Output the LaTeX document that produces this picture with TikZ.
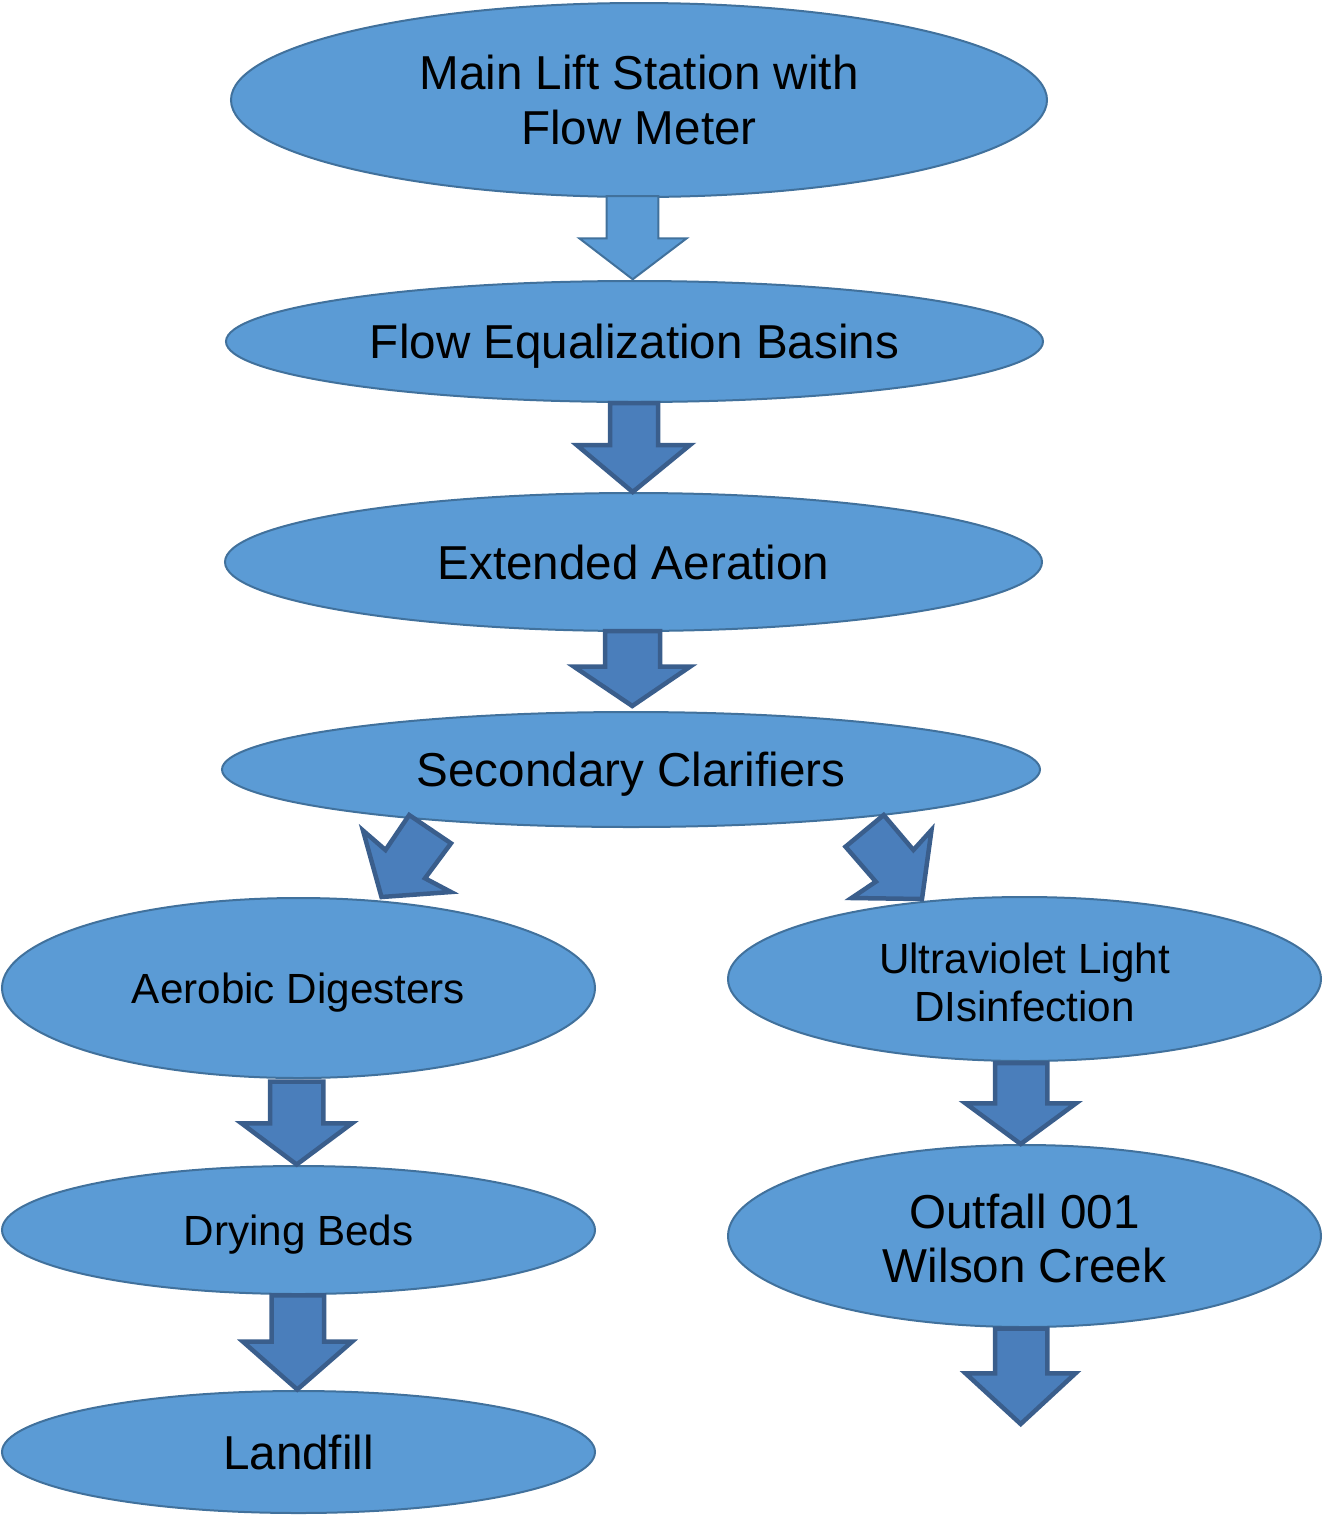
\documentclass[tikz,border=0pt]{standalone}
\usepackage{fontspec}
\setmainfont{Liberation Sans}
\usetikzlibrary{shapes.geometric}
\definecolor{efill}{HTML}{5B9BD5}
\definecolor{eline}{HTML}{41719C}
\definecolor{afill}{HTML}{4A7EBB}
\definecolor{aline}{HTML}{3A5E8C}
\tikzset{
  stage/.style={ellipse, draw=eline, fill=efill, line width=2pt, inner sep=0pt},
  label/.style={align=center, text=black, inner sep=0pt},
  bigtxt/.style={label, font=\fontsize{47.6}{54.7}\selectfont},
  smalltxt/.style={label, font=\fontsize{42.2}{48.8}\selectfont},
  barrow/.style={draw=aline, fill=afill, line width=4.5pt, line join=miter},
  larrow/.style={draw=eline, fill=efill, line width=2pt, line join=miter}
}
\begin{document}
\begin{tikzpicture}[x=1pt,y=-1pt]
\useasboundingbox (0,0) rectangle (1323,1516);
% stages
\node[stage, minimum width=816pt, minimum height=194pt] (lift) at (639,100) {};
\node[stage, minimum width=817pt, minimum height=121pt] (eq) at (634.5,341.5) {};
\node[stage, minimum width=817pt, minimum height=138pt] (aer) at (633.5,562) {};
\node[stage, minimum width=818pt, minimum height=115pt] (clar) at (631,769.5) {};
\node[stage, minimum width=593pt, minimum height=180pt] (dig) at (298.5,988) {};
\node[stage, minimum width=593pt, minimum height=164pt] (uv) at (1024.5,979) {};
\node[stage, minimum width=593pt, minimum height=128pt] (dry) at (298.5,1230) {};
\node[stage, minimum width=593pt, minimum height=182pt] (out) at (1024.5,1236) {};
\node[stage, minimum width=593pt, minimum height=122pt] (land) at (298.5,1452) {};
% texts
\node[bigtxt] (liftT) at (lift) {Main Lift Station with\\Flow Meter};
\node[bigtxt, yshift=-5pt] (eqT) at (eq) {Flow Equalization Basins};
\node[bigtxt] (aerT) at (aer) {Extended Aeration};
\node[bigtxt, yshift=-5pt] (clarT) at (clar) {Secondary Clarifiers};
\node[smalltxt, yshift=-5pt] (digT) at (dig) {Aerobic Digesters};
\node[smalltxt, yshift=-3.5pt] (uvT) at (uv) {Ultraviolet Light\\DIsinfection};
\node[smalltxt, yshift=-5pt] (dryT) at (dry) {Drying Beds};
\node[bigtxt, yshift=-2.5pt] (outT) at (out) {Outfall 001\\Wilson Creek};
\node[bigtxt] (landT) at (land) {Landfill};
% block arrows
\draw[larrow] (606.7,196) -- (658.3,196) -- (658.3,238.3) -- (686.7,238.3) -- (632.7,279.3) -- (579.3,238.3) -- (606.7,238.3) -- cycle;
\draw[barrow] (610,403) -- (658,403) -- (658,445) -- (690,445) -- (632.7,492) -- (576.7,445) -- (610,445) -- cycle;
\draw[barrow] (605,631) -- (660,631) -- (660,666.7) -- (690,666.7) -- (632.3,706) -- (574,666.7) -- (605,666.7) -- cycle;
\draw[barrow] (409.2,815) -- (451,843.3) -- (425,878.3) -- (451,892) -- (381.5,897) -- (363,830.5) -- (385.5,850) -- cycle;
\draw[barrow] (883.7,815) -- (913.4,850) -- (931.5,830) -- (922,899) -- (851.5,898) -- (875.8,881.7) -- (845.5,846.7) -- cycle;
\draw[barrow] (270,1081.7) -- (323.3,1081.7) -- (323.3,1123.3) -- (352,1123.3) -- (296.7,1164.5) -- (241.5,1123.3) -- (270,1123.3) -- cycle;
\draw[barrow] (271.7,1295.3) -- (324,1295.3) -- (324,1341.7) -- (352,1341.7) -- (297.3,1389.5) -- (243,1341.7) -- (271.7,1341.7) -- cycle;
\draw[barrow] (995,1063) -- (1047.3,1063) -- (1047.3,1103.3) -- (1076,1103.3) -- (1020.7,1144) -- (965.5,1103.3) -- (995,1103.3) -- cycle;
\draw[barrow] (995,1328.5) -- (1047.3,1328.5) -- (1047.3,1373.3) -- (1075.5,1373.3) -- (1020.7,1424) -- (965.5,1373.3) -- (995,1373.3) -- cycle;
\end{tikzpicture}
\end{document}
